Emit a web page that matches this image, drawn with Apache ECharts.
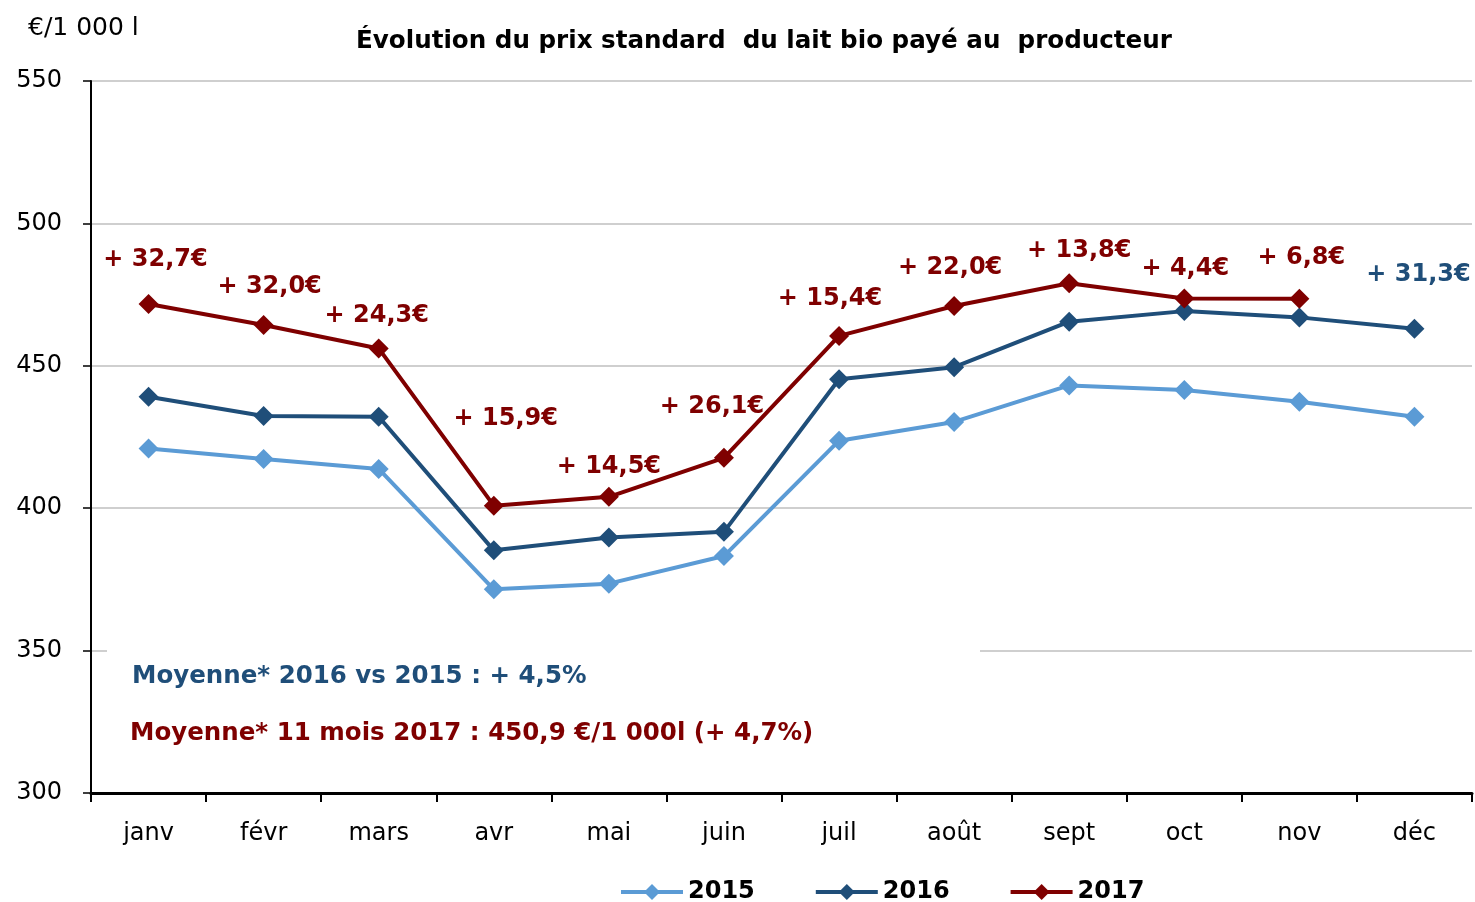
<!DOCTYPE html>
<html lang="fr">
<head>
    <meta charset="UTF-8">
    <title>Prix du lait bio</title>
    <script src="https://cdn.jsdelivr.net/npm/echarts@6/dist/echarts.min.js"></script>
    <style>
        html, body { margin: 0; padding: 0; background: #fff; }
        #chart { width: 1475px; height: 902px; }
    </style>
</head>
<body>
<div id="chart"></div>
<script type="text/javascript">
    // donnees (€/1 000 l)
    var mois = ['janv', 'févr', 'mars', 'avr', 'mai', 'juin', 'juil', 'août', 'sept', 'oct', 'nov', 'déc'];
    var prix2015 = [421.0, 417.3, 413.8, 371.5, 373.5, 383.2, 423.7, 430.3, 443.1, 441.5, 437.4, 432.1];
    var prix2016 = [439.1, 432.4, 432.1, 385.2, 389.7, 391.7, 445.3, 449.5, 465.5, 469.2, 467.0, 463.0];
    var prix2017 = [471.7, 464.3, 456.1, 400.9, 404.0, 417.7, 460.5, 471.0, 479.0, 473.6, 473.5, null];
    var ecarts2017 = ['+ 32,7€', '+ 32,0€', '+ 24,3€', '+ 15,9€', '+ 14,5€', '+ 26,1€',
        '+ 15,4€', '+ 22,0€', '+ 13,8€', '+ 4,4€', '+ 6,8€', ''];
    var ecart2016Dec = '+ 31,3€';
    var axeY = [300, 550, 50];

    // decalage des etiquettes par rapport au point (mise en page)
    var decalage = [[7, -44], [6, -38], [-2, -33], [12, -87], [0, -30], [-12, -51],
        [-9, -37], [-4, -38], [10, -32], [1, -30], [2, -41], [0, 0]];

    var c2015 = '#5B9BD5', c2016 = '#1F4E79', c2017 = '#7F0000';
    var police = '"DejaVu Sans", Verdana, sans-serif';

    var data2017 = prix2017.map(function (v, i) {
        return {
            value: v,
            label: {show: ecarts2017[i] !== '', formatter: ecarts2017[i], offset: decalage[i]}
        };
    });
    var data2016 = prix2016.map(function (v, i) {
        if (i === prix2016.length - 1) {
            return {value: v, label: {show: true, formatter: ecart2016Dec, offset: [4, -54]}};
        }
        return v;
    });

    function serie(nom, couleur, data) {
        return {
            name: nom,
            type: 'line',
            data: data,
            symbol: 'diamond',
            symbolSize: 20,
            showAllSymbol: true,
            lineStyle: {color: couleur, width: 4},
            itemStyle: {color: couleur},
            label: {
                show: false,
                position: 'inside',
                color: couleur,
                fontFamily: police,
                fontWeight: 'bold',
                fontSize: 24
            },
            emphasis: {disabled: true},
            animation: false
        };
    }

    var chart = echarts.init(document.getElementById('chart'));
    chart.setOption({
        backgroundColor: '#fff',
        textStyle: {fontFamily: police},
        title: [{
            text: 'Évolution du prix standard  du lait bio payé au  producteur',
            left: 351,
            top: 24,
            textStyle: {fontFamily: police, fontWeight: 'bold', fontSize: 24.6, color: '#000'}
        }, {
            text: '€/1 000 l',
            left: 23,
            top: 11,
            textStyle: {fontFamily: police, fontWeight: 'normal', fontSize: 25, color: '#000'}
        }],
        grid: {left: 91, right: 3, top: 81, bottom: 109, containLabel: false},
        legend: {
            left: 614,
            top: 875,
            itemWidth: 62,
            itemHeight: 20,
            itemGap: 59,
            lineStyle: {width: 4},
            textStyle: {fontFamily: police, fontWeight: 'bold', fontSize: 24, color: '#000'},
            data: ['2015', '2016', '2017']
        },
        xAxis: {
            type: 'category',
            data: mois,
            boundaryGap: true,
            axisLine: {lineStyle: {color: '#000', width: 3}},
            axisTick: {show: true, length: 9, lineStyle: {color: '#000', width: 2}},
            axisLabel: {color: '#000', fontSize: 24, fontFamily: police, margin: 29},
            splitLine: {show: false}
        },
        yAxis: {
            type: 'value',
            min: axeY[0],
            max: axeY[1],
            interval: axeY[2],
            axisLine: {show: true, lineStyle: {color: '#000', width: 2}},
            axisTick: {show: true, length: 8, lineStyle: {color: '#000', width: 1.5}},
            axisLabel: {color: '#000', fontSize: 24, fontFamily: police, margin: 29},
            splitLine: {lineStyle: {color: '#BFBFBF', width: 1.5}}
        },
        graphic: [{
            type: 'rect',
            z: 50,
            shape: {x: 107, y: 640, width: 873, height: 125},
            style: {fill: '#fff'}
        }, {
            type: 'text',
            z: 51,
            left: 132,
            top: 664,
            style: {
                text: 'Moyenne* 2016 vs 2015 : + 4,5%',
                fill: c2016,
                font: 'bold 24.5px ' + police
            }
        }, {
            type: 'text',
            z: 51,
            left: 130,
            top: 721,
            style: {
                text: 'Moyenne* 11 mois 2017 : 450,9 €/1 000l (+ 4,7%)',
                fill: c2017,
                font: 'bold 24.5px ' + police
            }
        }],
        series: [
            serie('2015', c2015, prix2015),
            serie('2016', c2016, data2016),
            serie('2017', c2017, data2017)
        ]
    });
</script>
</body>
</html>
